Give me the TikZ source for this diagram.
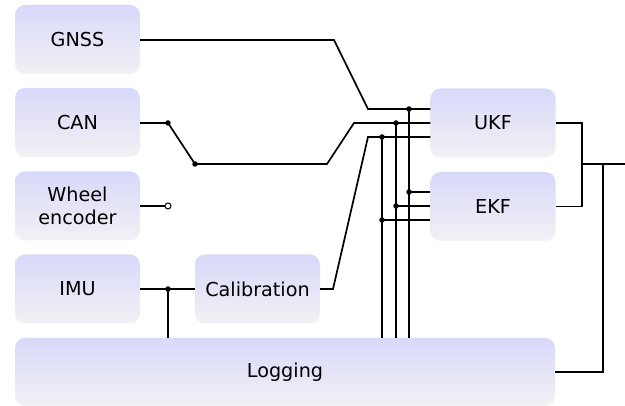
\documentclass[tikz,border=0pt]{standalone}
\usepackage{fontspec}
\setmainfont{DejaVu Sans}
\begin{document}
\begin{tikzpicture}[x=1pt,y=-1pt,
  blk/.style={rounded corners=10pt, top color=boxtop, bottom color=boxbot,
    draw=none, minimum width=125pt, minimum height=69pt, align=center,
    inner sep=0pt, font=\fontsize{19.2}{23}\selectfont},
  wire/.style={line width=1.7pt, line join=miter},
  jdot/.style={circle, fill=black, inner sep=0pt, minimum size=5.5pt},
  odot/.style={circle, draw=black, fill=white, line width=1pt, inner sep=0pt, minimum size=6pt}]
\definecolor{boxtop}{RGB}{216,216,250}
\definecolor{boxbot}{RGB}{242,241,244}
\useasboundingbox (0,0) rectangle (625,406);

% sources
\node[blk] (gnss)  at (77.5,39.5)  {GNSS};
\node[blk] (can)   at (77.5,122.5) {CAN};
\node[blk] (wheel) at (77.5,206)   {Wheel\\encoder};
\node[blk] (imu)   at (77.5,289)   {IMU};
\node[blk] (calib) at (257.5,289)  {Calibration};
\node[blk, minimum width=540pt, minimum height=68pt] (log) at (285,372) {Logging};
% filters
\node[blk] (ukf) at (493,123) {UKF};
\node[blk] (ekf) at (493,206.5) {EKF};

% junction points
\coordinate (canA) at (168,123);
\coordinate (canB) at (195,164);
\coordinate (wend) at (168,206);
\coordinate (imuJ) at (168,289);
\coordinate (b1) at (409,109);
\coordinate (b2) at (396,123);
\coordinate (b3) at (382,137);
\coordinate (e1) at (409,192);
\coordinate (e2) at (396,206);
\coordinate (e3) at (382,220);
\coordinate (mux) at (582,164);
\coordinate (out) at (625,164);
\coordinate (logJ) at (603,164);

% GNSS into the bus
\draw[wire] (gnss.east |- 0,40) -- (334,40) -- (368,109) -- (ukf.west |- b1);
% CAN through its switch
\draw[wire] (can.east |- canA) -- (canA) -- (canB) -- (327,164) -- (354,123) -- (ukf.west |- b2);
% wheel encoder, open contact
\draw[wire] (wheel.east) -- (wend);
% IMU through calibration
\draw[wire] (imu.east) -- (calib.west);
\draw[wire] (imuJ) -- (imuJ |- log.north);
\draw[wire] (calib.east) -- (333,289) -- (368,137) -- (ukf.west |- b3);

% bus down to the logger and across to the EKF
\draw[wire] (b1) -- (b1 |- log.north);
\draw[wire] (b2) -- (b2 |- log.north);
\draw[wire] (b3) -- (b3 |- log.north);
\draw[wire] (e1) -- (ekf.west |- e1);
\draw[wire] (e2) -- (ekf.west |- e2);
\draw[wire] (e3) -- (ekf.west |- e3);

% filter outputs merged
\draw[wire] (ukf.east) -- (ukf.east -| mux) -- (ekf.east -| mux) -- (ekf.east);
\draw[wire] (mux) -- (out);
\draw[wire] (logJ) -- (logJ |- log.east) -- (log.east);

% junction dots
\foreach \p in {canA,canB,imuJ,b1,b2,b3,e1,e2,e3}
  \node[jdot] at (\p) {};
\node[odot] at (wend) {};
\end{tikzpicture}
\end{document}
